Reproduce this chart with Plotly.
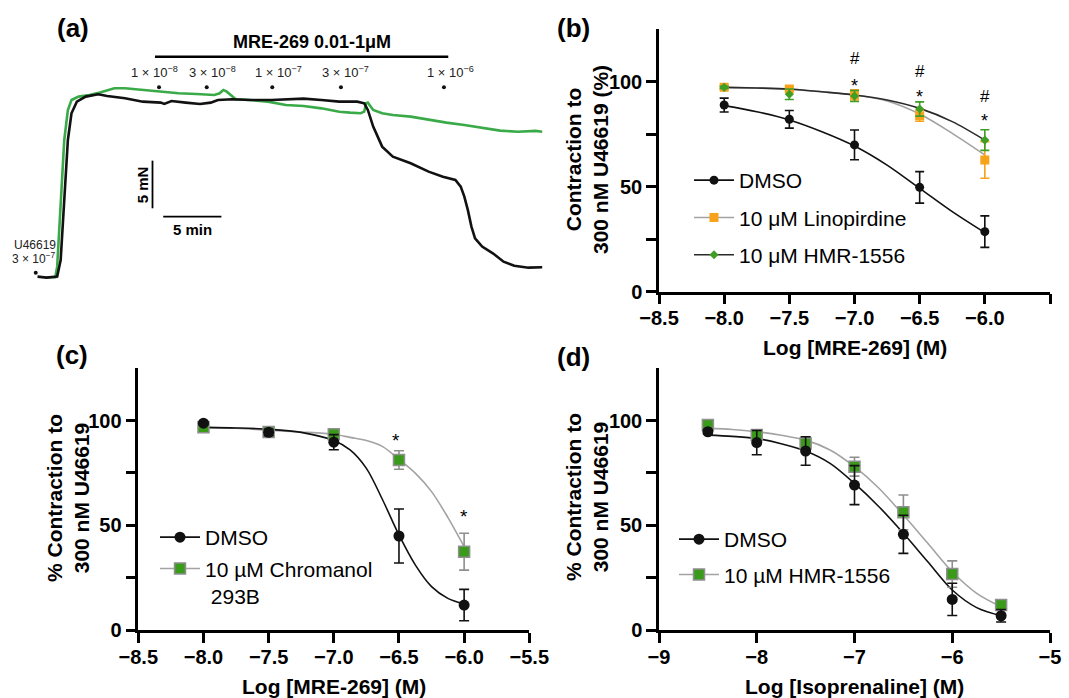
import plotly.graph_objects as go

W, H = 1069, 698
FONT = "Liberation Sans, Arial, Helvetica, sans-serif"

def fx(p):
    return p / W

def fy(p):
    return 1 - p / H

# ---------------- data: panel (a) tension traces (time in min, force in mN)
a_black_t = [0.0, 0.77, 1.69, 1.99, 2.30, 2.61, 2.92, 3.38, 4.14, 5.22, 5.98, 7.52, 9.05, 10.59, 10.89,
             11.51, 12.73, 13.96, 14.88, 15.50, 16.72, 18.26, 20.10, 21.33, 22.86, 24.39, 25.93, 27.46,
             28.07, 28.38, 28.84, 29.61, 30.53, 32.06, 33.60, 34.83, 35.90, 36.36, 36.67, 36.97, 37.28,
             37.59, 38.20, 39.12, 40.04, 40.96, 42.19, 43.36]
a_black_f = [0.07, -0.03, 0.07, 1.82, 8.11, 14.41, 17.21, 18.43, 18.96, 19.20, 19.03, 18.78, 18.43, 18.33,
             18.19, 18.50, 18.33, 18.19, 18.33, 18.61, 18.68, 18.61, 18.61, 18.68, 18.75, 18.61, 18.43,
             18.43, 18.26, 17.56, 15.81, 13.71, 12.66, 11.96, 11.09, 10.56, 10.21, 9.51, 8.46, 7.07, 5.32,
             4.09, 3.22, 2.52, 1.64, 1.22, 1.01, 1.05]
a_green_t = [0.77, 1.53, 1.69, 1.99, 2.30, 2.61, 2.92, 3.53, 4.45, 5.37, 6.60, 7.52, 9.05, 10.59, 12.12,
             13.65, 15.19, 15.65, 15.96, 16.26, 16.72, 17.03, 18.26, 19.79, 21.33, 22.86, 24.39, 25.93,
             26.85, 27.77, 28.07, 28.23, 28.38, 28.84, 29.61, 30.53, 32.06, 33.60, 35.13, 36.67, 38.20,
             39.74, 41.27, 42.80, 43.36]
a_green_f = [0.0, 0.0, 1.12, 8.11, 14.41, 17.56, 18.61, 18.96, 19.13, 19.38, 19.83, 19.83, 19.66, 19.48,
             19.31, 19.24, 19.13, 19.31, 19.66, 19.48, 18.96, 18.68, 18.61, 18.43, 18.08, 17.98, 17.73,
             17.38, 17.28, 17.21, 17.38, 18.26, 18.33, 17.56, 17.21, 17.03, 16.86, 16.51, 16.23, 15.98,
             15.70, 15.39, 15.28, 15.36, 15.28]
a_dose_t = [10.44, 14.54, 20.17, 26.07, 34.92]
a_dose_labels = ["1 × 10<sup>−8</sup>", "3 × 10<sup>−8</sup>", "1 × 10<sup>−7</sup>",
                 "3 × 10<sup>−7</sup>", "1 × 10<sup>−6</sup>"]
a_label_t = [10.01, 15.05, 20.69, 26.50, 35.44]

# ---------------- data: panel (b)
b_x = [-8, -7.5, -7, -6.5, -6]
b_dmso = [88.9, 82.1, 69.9, 49.7, 28.6]
b_dmso_err = [3.3, 4.2, 7.1, 7.5, 7.5]
b_lino = [97.3, 96.5, 93.7, 83.8, 62.7]
b_lino_err = [0.8, 1.0, 2.4, 2.6, 8.7]
b_hmr = [97.3, 94.0, 93.2, 87.0, 72.2]
b_hmr_err = [0.5, 2.5, 2.6, 3.4, 4.9]
b_fit_x = [-8, -7.75, -7.5, -7.25, -7, -6.75, -6.5, -6.25, -6]
b_dmso_fit = [88.6, 85.7, 81.8, 76.2, 69.4, 60.3, 49.2, 38.1, 28.1]
b_lino_fit = [97.3, 97.0, 96.3, 95.2, 93.7, 90.8, 84.6, 75.4, 65.1]
b_hmr_fit = [97.3, 97.0, 96.5, 95.2, 93.7, 91.3, 87.3, 81.0, 72.2]

# ---------------- data: panel (c)
c_x = [-8, -7.5, -7, -6.5, -6]
c_dmso = [98.8, 94.4, 89.7, 44.9, 11.9]
c_dmso_err = [0.8, 1.5, 3.6, 12.9, 7.5]
c_chrom = [96.8, 94.6, 93.5, 81.2, 37.4]
c_chrom_err = [0.8, 1.0, 1.5, 4.4, 8.8]
c_fit_x = [-8, -7.75, -7.5, -7.25, -7, -6.875, -6.75, -6.625, -6.5, -6.375, -6.25, -6.125, -6]
c_dmso_fit = [96.8, 96.5, 95.9, 94.4, 90.5, 86.0, 77.2, 62.1, 45.4, 31.1, 20.7, 15.1, 12.4]
c_chrom_fit = [96.8, 96.4, 95.4, 94.6, 93.5, 92.0, 90.5, 87.6, 81.5, 74.9, 66.1, 53.8, 39.8]

# ---------------- data: panel (d)
d_x = [-8.5, -8, -7.5, -7, -6.5, -6, -5.5]
d_dmso = [94.7, 89.5, 85.5, 69.2, 45.7, 14.6, 6.8]
d_dmso_err = [1.0, 5.8, 6.8, 9.3, 9.1, 7.7, 3.0]
d_hmr = [97.9, 93.1, 89.1, 78.0, 56.2, 26.7, 11.9]
d_hmr_err = [1.0, 2.0, 3.0, 4.5, 8.3, 6.3, 2.4]
d_fit_x = [-8.5, -8.25, -8, -7.75, -7.5, -7.25, -7, -6.75, -6.5, -6.25, -6, -5.75, -5.5]
d_dmso_fit = [93.1, 92.5, 91.5, 89.0, 85.5, 79.6, 70.0, 58.9, 46.2, 32.6, 19.1, 10.7, 6.8]
d_hmr_fit = [96.3, 95.8, 94.7, 93.0, 90.7, 86.0, 78.0, 67.7, 54.9, 41.4, 27.8, 17.5, 11.1]

# ---------------- tick labels
mre_ticks = [-8.5, -8.0, -7.5, -7.0, -6.5, -6.0, -5.5]
mre_ticktext = ["−8.5", "−8.0", "−7.5", "−7.0", "−6.5", "−6.0", "−5.5"]
iso_ticks = [-9, -8, -7, -6, -5]
iso_ticktext = ["−9", "−8", "−7", "−6", "−5"]
y_ticks = [0, 50, 100]
y_ticktext = ["0", "50", "100"]
y_minor_ticks = [25, 75]

BLACK = "#111111"
GREEN_TR = "#3aaa48"
ORANGE = "#f7a21b"
GREEN_B = "#3f9e25"
GREEN_SQ = "#3a9a1a"
GRAY = "#a3a3a3"
GRAY_EDGE = "#8f8f8f"

fig = go.Figure()

# ---------- panel (a)
fig.add_trace(go.Scatter(x=a_green_t, y=a_green_f, mode="lines", xaxis="x", yaxis="y",
                         line=dict(color=GREEN_TR, width=2.6), showlegend=False, hoverinfo="skip"))
fig.add_trace(go.Scatter(x=a_black_t, y=a_black_f, mode="lines", xaxis="x", yaxis="y",
                         line=dict(color=BLACK, width=2.6), showlegend=False, hoverinfo="skip"))
fig.add_trace(go.Scatter(x=a_dose_t, y=[19.94] * len(a_dose_t), mode="markers", xaxis="x", yaxis="y",
                         marker=dict(color=BLACK, size=4), showlegend=False, hoverinfo="skip"))
fig.add_trace(go.Scatter(x=[-0.15], y=[0.49], mode="markers", xaxis="x", yaxis="y",
                         marker=dict(color=BLACK, size=4), showlegend=False, hoverinfo="skip"))


def err(arr, color, w=4.5):
    return dict(type="data", array=arr, visible=True, color=color, thickness=1.6, width=w)


def add_curve(x, y, color, xa, ya, width=1.6):
    fig.add_trace(go.Scatter(x=x, y=y, mode="lines", xaxis=xa, yaxis=ya,
                             line=dict(color=color, width=width, shape="spline", smoothing=0.9),
                             showlegend=False, hoverinfo="skip"))


def add_points(x, y, e, ecolor, marker, xa, ya, ew=4.5):
    fig.add_trace(go.Scatter(x=x, y=y, mode="markers", xaxis=xa, yaxis=ya,
                             error_y=err(e, ecolor, ew), marker=marker,
                             showlegend=False, hoverinfo="skip"))


def add_legend(name, lcolor, marker, legend, group):
    fig.add_trace(go.Scatter(x=[None], y=[None], mode="lines+markers", name=name,
                             line=dict(color=lcolor, width=1.6), marker=marker,
                             legend=legend, legendgroup=group, showlegend=True,
                             xaxis="x2", yaxis="y2"))


# ---------- panel (b)
m_b_dmso = dict(symbol="circle", size=9, color=BLACK)
m_b_lino = dict(symbol="square", size=9, color=ORANGE)
m_b_hmr = dict(symbol="diamond", size=7, color=GREEN_B)
add_curve(b_fit_x, b_dmso_fit, BLACK, "x2", "y2")
add_curve(b_fit_x, b_lino_fit, GRAY, "x2", "y2")
add_curve(b_fit_x, b_hmr_fit, "#2b2b2b", "x2", "y2")
add_points(b_x, b_dmso, b_dmso_err, BLACK, m_b_dmso, "x2", "y2")
add_points(b_x, b_lino, b_lino_err, ORANGE, m_b_lino, "x2", "y2")
add_points(b_x, b_hmr, b_hmr_err, GREEN_B, m_b_hmr, "x2", "y2")
add_legend("DMSO", BLACK, m_b_dmso, "legend", "b1")
add_legend("10 μM Linopirdine", GRAY, m_b_lino, "legend", "b2")
add_legend("10 μM HMR-1556", "#2b2b2b", m_b_hmr, "legend", "b3")

# ---------- panel (c)
m_c_dmso = dict(symbol="circle", size=11, color=BLACK)
m_c_chrom = dict(symbol="square", size=11, color=GREEN_SQ, line=dict(color=GRAY_EDGE, width=1.5))
add_curve(c_fit_x, c_chrom_fit, GRAY, "x3", "y3")
add_curve(c_fit_x, c_dmso_fit, BLACK, "x3", "y3")
add_points(c_x, c_chrom, c_chrom_err, GRAY_EDGE, m_c_chrom, "x3", "y3", 5)
add_points(c_x, c_dmso, c_dmso_err, BLACK, m_c_dmso, "x3", "y3", 5)
add_legend("DMSO", BLACK, m_c_dmso, "legend2", "c1")
add_legend("10 µM Chromanol<br> 293B", GRAY, m_c_chrom, "legend2", "c2")

# ---------- panel (d)
m_d_dmso = dict(symbol="circle", size=11, color=BLACK)
m_d_hmr = dict(symbol="square", size=11, color=GREEN_SQ, line=dict(color=GRAY_EDGE, width=1.5))
add_curve(d_fit_x, d_hmr_fit, GRAY, "x4", "y4")
add_curve(d_fit_x, d_dmso_fit, BLACK, "x4", "y4")
add_points(d_x, d_hmr, d_hmr_err, GRAY_EDGE, m_d_hmr, "x4", "y4", 5)
add_points(d_x, d_dmso, d_dmso_err, BLACK, m_d_dmso, "x4", "y4", 5)
add_legend("DMSO", BLACK, m_d_dmso, "legend3", "d1")
add_legend("10 µM HMR-1556", GRAY, m_d_hmr, "legend3", "d2")

# ---------- axes
tickfont = dict(family=FONT, size=20, color="black", weight="bold")
common = dict(showline=True, linecolor="black", linewidth=2.5, ticks="outside", ticklen=10,
              tickwidth=2.5, tickcolor="black", showgrid=False, zeroline=False,
              tickfont=tickfont, fixedrange=True)
yminor = dict(tickmode="array", tickvals=y_minor_ticks, ticks="outside", ticklen=10,
              tickwidth=2.5, tickcolor="black", showgrid=False)

fig.update_layout(
    xaxis=dict(domain=[0, fx(550)], range=[-3.222, 44.03], visible=False, fixedrange=True),
    yaxis=dict(domain=[fy(300), 1], range=[-2.382, 29.098], visible=False, fixedrange=True),
    xaxis2=dict(domain=[fx(659), fx(1050)], range=[-8.5, -5.5], anchor="y2",
                tickvals=mre_ticks, ticktext=mre_ticktext, ticklabelstandoff=-3, **common),
    yaxis2=dict(domain=[fy(291.7), fy(29.2)], range=[0, 125], anchor="x2",
                tickvals=y_ticks, ticktext=y_ticktext, minor=yminor, **common),
    xaxis3=dict(domain=[fx(138.3), fx(529.3)], range=[-8.5, -5.5], anchor="y3",
                tickvals=mre_ticks, ticktext=mre_ticktext, ticklabelstandoff=-3, **common),
    yaxis3=dict(domain=[fy(630), fy(368.3)], range=[0, 125], anchor="x3",
                tickvals=y_ticks, ticktext=y_ticktext, minor=yminor, **common),
    xaxis4=dict(domain=[fx(659), fx(1050)], range=[-9, -5], anchor="y4",
                tickvals=iso_ticks, ticktext=iso_ticktext, ticklabelstandoff=-3, **common),
    yaxis4=dict(domain=[fy(630), fy(368.3)], range=[0, 125], anchor="x4",
                tickvals=y_ticks, ticktext=y_ticktext, minor=yminor, **common),
)

leg_common = dict(xanchor="left", yanchor="top", bgcolor="rgba(0,0,0,0)", borderwidth=0,
                  traceorder="grouped", itemwidth=40, itemclick=False, itemdoubleclick=False)
fig.update_layout(
    legend=dict(x=fx(689), y=fy(160), font=dict(family=FONT, size=21, color="black"),
                tracegroupgap=7, **leg_common),
    legend2=dict(x=fx(155), y=fy(517), font=dict(family=FONT, size=21, color="black"),
                 tracegroupgap=1, valign="top", **leg_common),
    legend3=dict(x=fx(674), y=fy(519), font=dict(family=FONT, size=21, color="black"),
                 tracegroupgap=5, **leg_common),
)

ann = []


def paper_text(px, py, text, size, bold=False, angle=0):
    ann.append(dict(x=fx(px), y=fy(py), xref="paper", yref="paper", text=text, showarrow=False,
                    xanchor="center", yanchor="middle", textangle=angle, align="center",
                    font=dict(family=FONT, size=size, color="black", weight="bold" if bold else "normal")))


def data_text(xr, yr, x, y, text, size, bold=False, angle=0, yshift=0, color="black"):
    ann.append(dict(x=x, y=y, xref=xr, yref=yr, text=text, showarrow=False, xanchor="center",
                    yanchor="middle", textangle=angle, yshift=yshift, align="center",
                    font=dict(family=FONT, size=size, color=color, weight="bold" if bold else "normal")))


# panel letters
paper_text(73, 28, "(a)", 26, True)
paper_text(573.5, 28, "(b)", 26, True)
paper_text(72, 355, "(c)", 26, True)
paper_text(573.5, 357, "(d)", 26, True)

# axis titles
paper_text(854.5, 347, "Log [MRE-269] (M)", 21, True)
paper_text(333.8, 686, "Log [MRE-269] (M)", 21, True)
paper_text(854.5, 686, "Log [Isoprenaline] (M)", 21, True)
paper_text(587, 160, "Contraction to<br>300 nM U46619 (%)", 21, True, -90)
paper_text(68, 498, "% Contraction to<br>300 nM U46619", 21, True, -90)
paper_text(587, 497, "% Contraction to<br>300 nM U46619", 21, True, -90)

# significance marks panel (b)
for xv, yh, ys in [(-7, 111.1, 100.0), (-6.5, 104.8, 94.5), (-6, 92.9, 83.0)]:
    data_text("x2", "y2", xv, yh, "#", 17)
    data_text("x2", "y2", xv, ys, "*", 18, yshift=-4)
# panel (c)
for xv, ys in [(-6.52, 92.4), (-6.0, 56.0)]:
    data_text("x3", "y3", xv, ys, "*", 19, yshift=-4)

# panel (a) annotations
data_text("x", "y", 23.56, 24.72, "MRE-269 0.01-1μM", 18, True)
for t, lab in zip(a_label_t, a_dose_labels):
    data_text("x", "y", t, 21.51, lab, 13, color="#222222")
data_text("x", "y", -0.25, 3.39, "U46619", 12, color="#222222")
data_text("x", "y", -0.30, 1.99, "3 × 10<sup>−7</sup>", 12, color="#222222")
data_text("x", "y", 13.29, 4.97, "5 min", 15, True)
data_text("x", "y", 9.05, 9.74, "5 mN", 15, True, -90)

shapes = [
    dict(type="line", xref="x", yref="y", x0=10.09, x1=35.29, y0=23.15, y1=23.15,
         line=dict(color="black", width=2.6)),
    dict(type="line", xref="x", yref="y", x0=9.88, x1=9.88, y0=7.24, y1=12.24,
         line=dict(color="black", width=1.8)),
    dict(type="line", xref="x", yref="y", x0=10.80, x1=15.80, y0=6.36, y1=6.36,
         line=dict(color="black", width=1.8)),
]

fig.update_layout(
    width=W, height=H, margin=dict(l=0, r=0, t=0, b=0, autoexpand=False),
    paper_bgcolor="white", plot_bgcolor="white",
    font=dict(family=FONT, color="black"),
    annotations=ann, shapes=shapes, hovermode=False,
)

fig.write_html("out.html", config={"displayModeBar": False},
               post_script="document.body.style.margin='0px';document.body.style.overflow='hidden';")
